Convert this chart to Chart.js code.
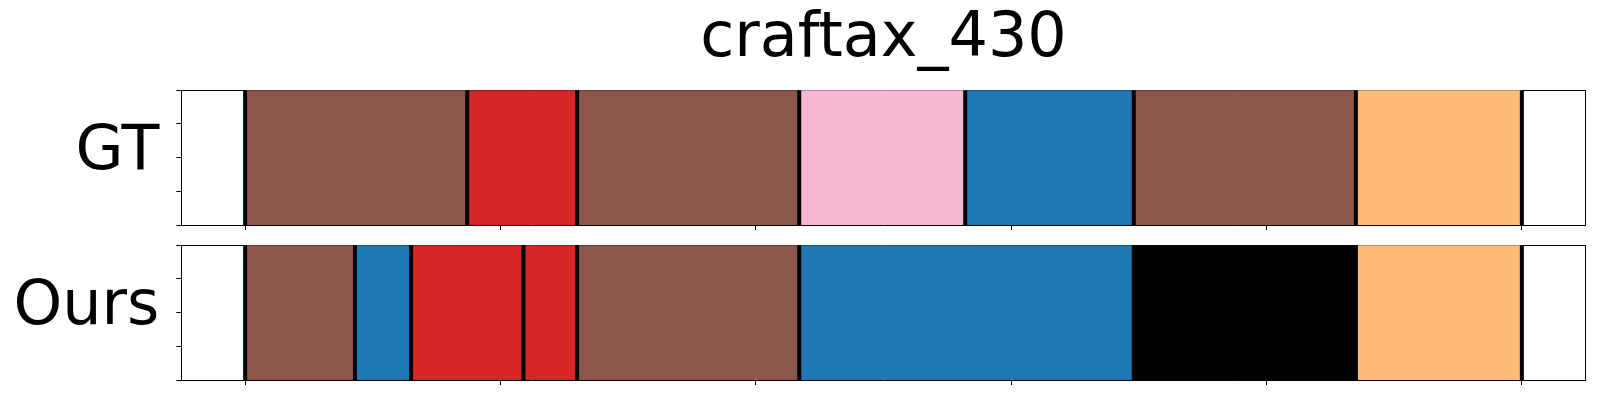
<!DOCTYPE html>
<html>
<head>
<meta charset="utf-8">
<script src="https://cdn.jsdelivr.net/npm/chart.js@4.4.1/dist/chart.umd.min.js"></script>
<style>
  html, body { margin: 0; padding: 0; background: #fff; }
  #wrap { position: relative; width: 1600px; height: 400px; overflow: hidden; }
  canvas { position: absolute; left: 0; }
</style>
</head>
<body>
<div id="wrap">
  <canvas id="c1" width="1600" height="235" style="top:0px"></canvas>
  <canvas id="c2" width="1600" height="165" style="top:235px"></canvas>
</div>
<script>
// ---- data ----
const titleText = 'craftax_430';
const rowLabels = ['GT', 'Ours'];
const xTickValues = [0, 100, 200, 300, 400, 500];
const yTickValues = [0, 0.25, 0.5, 0.75, 1];
const gtBounds = [0, 87, 130, 217, 282, 348, 435, 500];
const gtClasses = ['brown', 'red', 'brown', 'pink', 'blue', 'brown', 'peach'];
const oursBounds = [0, 43, 65, 109, 130, 217, 348, 435, 500];
const oursClasses = ['brown', 'blue', 'red', 'red', 'brown', 'blue', 'black', 'peach'];

// ---- styles ----
const palette = {
  brown: '#8c564b', red: '#d62728', pink: '#f7b6d2',
  blue: '#1f77b4', peach: '#ffbb78', black: '#000000'
};
const FONT = 'DejaVu Sans';
Chart.defaults.color = '#000';
Chart.defaults.font.family = FONT;

function makeChart(canvasId, rowLabel, bounds, classes, withTitle, pad) {
  const datasets = [];
  for (let i = 0; i < classes.length; i++) {
    datasets.push({
      type: 'bar',
      indexAxis: 'y',
      xAxisID: 'x', yAxisID: 'y',
      data: [[bounds[i], bounds[i + 1]]],
      backgroundColor: palette[classes[i]],
      borderWidth: 0,
      grouped: false,
      barPercentage: 1,
      categoryPercentage: 1,
      order: 1
    });
  }
  datasets.push({
    type: 'scatter',
    xAxisID: 'x', yAxisID: 'y',
    data: bounds.map(b => ({ x: b, y: rowLabel })),
    pointStyle: 'line',
    rotation: 90,
    radius: 90,
    pointBorderColor: '#000',
    borderColor: '#000',
    pointBorderWidth: 4,
    borderWidth: 4,
    showLine: false,
    clip: 0,
    order: -1
  });

  const frameAxis = (pos, isH) => ({
    type: 'linear', position: pos, display: true, offset: false,
    ticks: { display: false },
    grid: { drawTicks: false, drawOnChartArea: false, offset: false },
    border: { display: true, color: '#000', width: 1 },
    afterFit: s => { if (isH) s.height = 0; else s.width = 0;
      s.paddingTop = s.paddingBottom = s.paddingLeft = s.paddingRight = 0; }
  });

  return new Chart(document.getElementById(canvasId), {
    type: 'bar',
    data: { labels: [rowLabel], datasets },
    options: {
      indexAxis: 'y',
      responsive: false,
      animation: false,
      events: [],
      layout: { padding: pad, autoPadding: false },
      plugins: {
        legend: { display: false },
        tooltip: { enabled: false },
        title: {
          display: withTitle,
          text: titleText,
          fullSize: false,
          color: '#000',
          font: { family: FONT, size: 62, weight: 'normal', lineHeight: 1.2 },
          padding: { top: 3, bottom: 12.9 }
        }
      },
      scales: {
        x: {
          type: 'linear', position: 'bottom', min: -25, max: 525, offset: false,
          afterBuildTicks: s => { s.ticks = xTickValues.map(v => ({ value: v })); },
          ticks: { display: false, autoSkip: false },
          grid: { offset: false, drawOnChartArea: false, drawTicks: true, tickLength: 5, tickWidth: 1, tickColor: '#000' },
          border: { display: true, color: '#000', width: 1 },
          afterFit: s => { s.height = 10; s.paddingLeft = s.paddingRight = 0; }
        },
        y: { type: 'category', display: false, offset: true },
        yt: {
          type: 'linear', axis: 'y', position: 'left', min: 0, max: 1, offset: false,
          afterBuildTicks: s => { s.ticks = yTickValues.map(v => ({ value: v })); },
          ticks: {
            autoSkip: false,
            padding: 17,
            labelOffset: -5,
            color: '#000',
            font: { family: FONT, size: 62, lineHeight: 1.2 },
            callback: v => (v === 0.5 ? rowLabel : '')
          },
          grid: { offset: false, drawOnChartArea: false, drawTicks: true, tickLength: 5, tickWidth: 1, tickColor: '#000' },
          border: { display: true, color: '#000', width: 1 },
          afterFit: s => { s.width = 181.3; s.paddingTop = 0; s.paddingBottom = 0; }
        },
        xTop: frameAxis('top', true),
        yRight: frameAxis('right', false)
      }
    }
  });
}

makeChart('c1', rowLabels[0], gtBounds, gtClasses, true, { top: 0, left: 0, right: 14.3, bottom: 0 });
makeChart('c2', rowLabels[1], oursBounds, oursClasses, false, { top: 10.3, left: 0, right: 14.3, bottom: 10 });
</script>
</body>
</html>
